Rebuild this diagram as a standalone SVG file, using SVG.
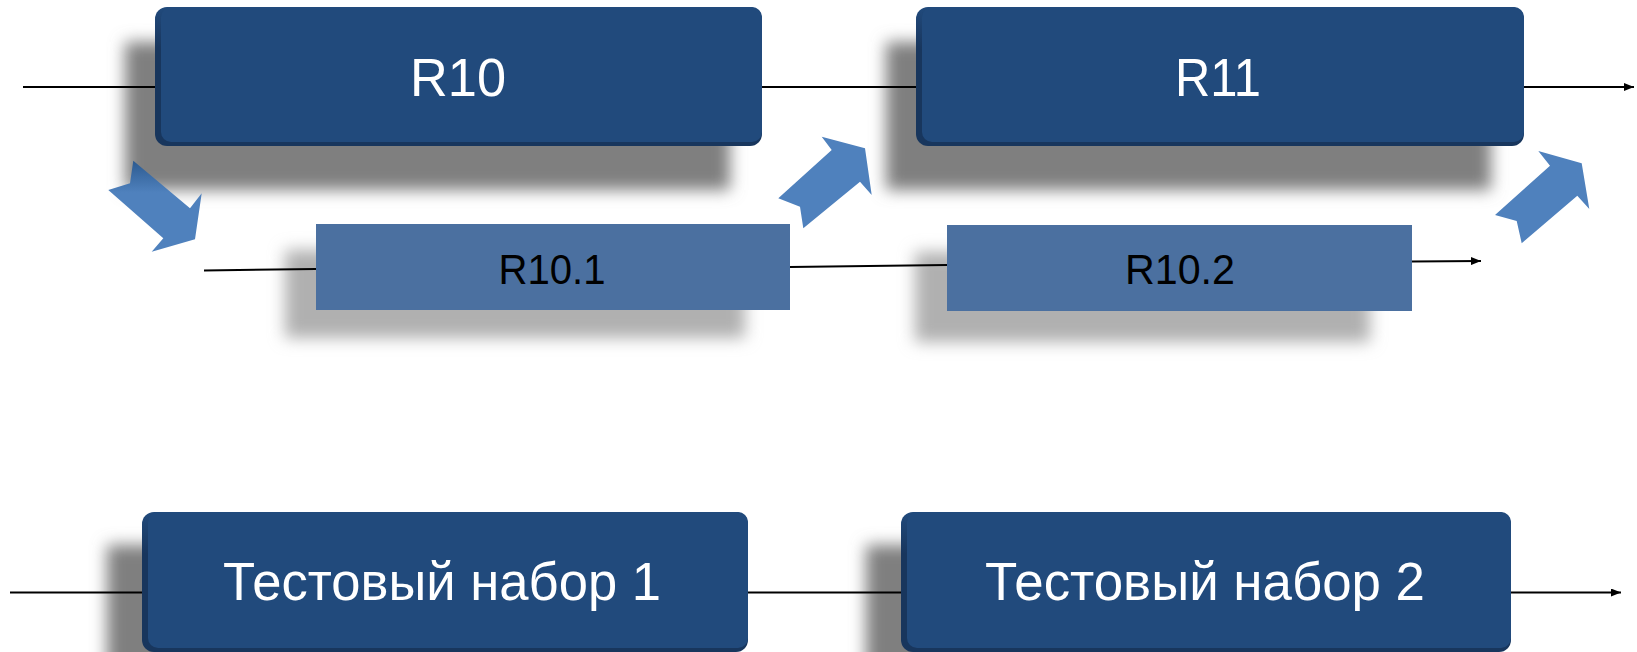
<svg xmlns="http://www.w3.org/2000/svg" width="1637" height="652" viewBox="0 0 1637 652">
  <defs>
    <style>
      .line { stroke: #000; stroke-width: 2; fill: none; }
      .arr { stroke: #000; stroke-width: 2; fill: none; marker-end: url(#ah); }
      .dark { fill: #214A7C; }
      .light { fill: #4B70A0; }
      .shd { fill: #7f7f7f; filter: url(#blur); }
      .shdl { fill: #b0b0b0; filter: url(#blur); }
      .bent { fill: #4F81BD; }
      .tw { font-family: "Liberation Sans", Arial, sans-serif; fill: #fff; text-anchor: middle; }
      .tb { font-family: "Liberation Sans", Arial, sans-serif; fill: #000; text-anchor: middle; }
    </style>
    <filter id="blur" x="-20%" y="-40%" width="140%" height="180%">
      <feGaussianBlur stdDeviation="8"/>
    </filter>
    <marker id="ah" viewBox="0 0 10 8" refX="10" refY="4" markerWidth="5" markerHeight="4" markerUnits="strokeWidth" orient="auto">
      <path d="M0,0 L10,4 L0,8 Z" fill="#000"/>
    </marker>
    <linearGradient id="g1" x1="0" y1="0" x2="0" y2="1">
      <stop offset="0" stop-color="#2C5A90"/>
      <stop offset="0.35" stop-color="#4F81BD"/>
      <stop offset="1" stop-color="#4F81BD"/>
    </linearGradient>
    <linearGradient id="edge" x1="0" y1="0" x2="0" y2="1">
      <stop offset="0" stop-color="#214A7C"/>
      <stop offset="0.3" stop-color="#18365D"/>
      <stop offset="1" stop-color="#18365D"/>
    </linearGradient>
  </defs>

  <g id="node-R10">
    <rect class="shd" x="125" y="42" width="605" height="148"/>
    <rect x="155" y="7" width="607" height="139" rx="12" fill="url(#edge)"/>
    <rect class="dark" x="161" y="7" width="601" height="135" rx="10"/>
    <text class="tw" x="458" y="95.5" font-size="53" textLength="96" lengthAdjust="spacingAndGlyphs">R10</text>
  </g>

  <g id="node-R11">
    <rect class="shd" x="886" y="42" width="605" height="148"/>
    <rect x="916" y="7" width="608" height="139" rx="12" fill="url(#edge)"/>
    <rect class="dark" x="922" y="7" width="602" height="135" rx="10"/>
    <text class="tw" x="1218" y="95.5" font-size="53" textLength="86" lengthAdjust="spacingAndGlyphs">R11</text>
  </g>

  <g id="node-R10-1">
    <rect class="shdl" x="285" y="250" width="460" height="88"/>
    <rect class="light" x="316" y="224" width="474" height="86"/>
    <text class="tb" x="552" y="283.5" font-size="42" textLength="107" lengthAdjust="spacingAndGlyphs">R10.1</text>
  </g>

  <g id="node-R10-2">
    <rect class="shdl" x="915" y="252" width="455" height="90"/>
    <rect class="light" x="947" y="225" width="465" height="86"/>
    <text class="tb" x="1180" y="283.5" font-size="42" textLength="110" lengthAdjust="spacingAndGlyphs">R10.2</text>
  </g>

  <g id="node-test1">
    <rect class="shd" x="107" y="545" width="600" height="140"/>
    <rect x="142" y="512" width="606" height="140" rx="12" fill="url(#edge)"/>
    <rect class="dark" x="148" y="512" width="600" height="136" rx="10"/>
    <text class="tw" x="442" y="600" font-size="54" textLength="438" lengthAdjust="spacingAndGlyphs">Тестовый набор 1</text>
  </g>

  <g id="node-test2">
    <rect class="shd" x="866" y="545" width="600" height="140"/>
    <rect x="901" y="512" width="610" height="140" rx="12" fill="url(#edge)"/>
    <rect class="dark" x="907" y="512" width="604" height="136" rx="10"/>
    <text class="tw" x="1205" y="600" font-size="54" textLength="440" lengthAdjust="spacingAndGlyphs">Тестовый набор 2</text>
  </g>

  <g id="bent-arrows">
    <polygon fill="url(#g1)" points="133.3,160.7 190,208.3 201.7,193.3 195,239.3 151.7,251.7 163.3,238.3 108.3,190 130,183.3"/>
    <polygon class="bent" points="778.3,198.3 831.7,150 821.7,136.7 865,148.3 871.7,195 860,181.7 803.3,228.3 800,206.7"/>
    <polygon class="bent" points="1495,215 1550,165.7 1538.3,151 1581.7,163.3 1589.3,209 1577.3,195.7 1521.7,243.3 1516.7,221"/>
  </g>

  <g id="connectors">
    <line class="line" x1="23" y1="87" x2="155" y2="87"/>
    <line class="line" x1="762" y1="87" x2="916" y2="87"/>
    <line class="arr" x1="1524" y1="87" x2="1634" y2="87"/>
    <line class="line" x1="204" y1="270.5" x2="316" y2="269"/>
    <line class="line" x1="790" y1="267" x2="947" y2="265"/>
    <line class="arr" x1="1412" y1="261.5" x2="1481" y2="261"/>
    <line class="line" x1="10" y1="592.5" x2="142" y2="592.5"/>
    <line class="line" x1="748" y1="592.5" x2="901" y2="592.5"/>
    <line class="arr" x1="1511" y1="592.5" x2="1621" y2="592.5"/>
  </g>
</svg>
